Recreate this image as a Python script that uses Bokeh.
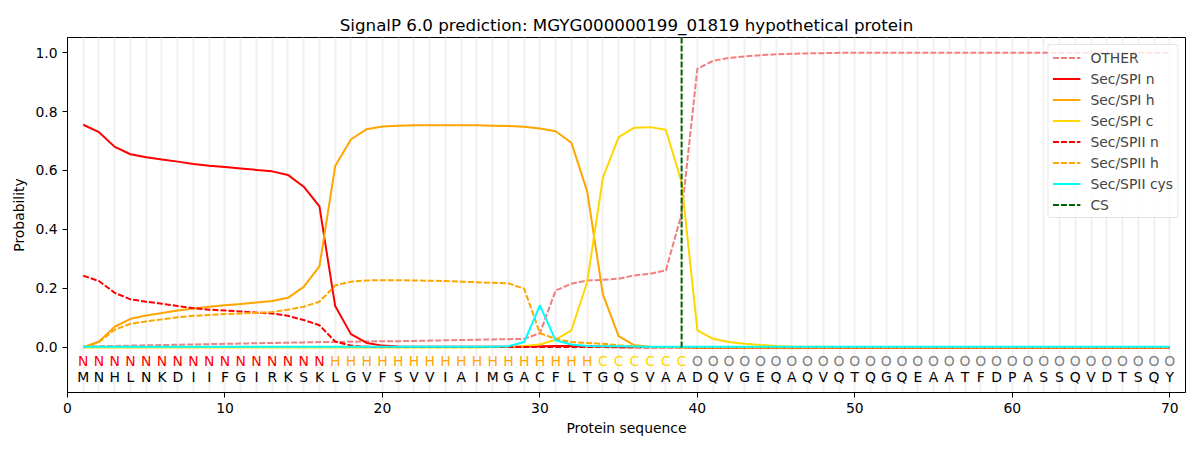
from bokeh.plotting import figure
from bokeh.models import FixedTicker, Legend, LegendItem, Range1d, ColumnDataSource, CustomJSTickFormatter
from bokeh.core.properties import value
from bokeh.embed import file_html
from bokeh.resources import INLINE

sequence = list("MNHLNKDIIFGIRKSKLGVFSVVIAIMGACFLTGQSVAADQVGEQAQVQTQGQEAATFDPASSQVDTSQY")
regions = list("N" * 16 + "H" * 17 + "C" * 6 + "O" * 31)
positions = list(range(1, 71))
cs_position = 39

other = [0.003, 0.004, 0.005, 0.006, 0.007, 0.008, 0.009, 0.010, 0.011, 0.012,
         0.013, 0.014, 0.015, 0.016, 0.017, 0.018, 0.018, 0.019, 0.020, 0.021,
         0.021, 0.022, 0.023, 0.024, 0.025, 0.026, 0.027, 0.028, 0.029, 0.048,
         0.193, 0.216, 0.227, 0.229, 0.233, 0.244, 0.250, 0.261, 0.453, 0.945,
         0.972, 0.982, 0.987, 0.991, 0.994, 0.996, 0.997, 0.998, 0.999, 0.999,
         0.999, 0.999, 0.999, 0.999, 0.999, 0.999, 0.999, 0.999, 0.999, 0.999,
         0.999, 0.999, 0.999, 0.999, 0.999, 0.999, 0.999, 0.999, 0.999, 0.999]
sp1_n = [0.755, 0.730, 0.680, 0.655, 0.645, 0.637, 0.630, 0.622, 0.616, 0.612,
         0.607, 0.602, 0.597, 0.585, 0.545, 0.478, 0.140, 0.045, 0.015, 0.006,
         0.003, 0.002, 0.002, 0.002, 0.002, 0.002, 0.002, 0.002, 0.003, 0.004,
         0.005, 0.005, 0.004, 0.003, 0.002, 0.001, 0.001, 0.001, 0.001, 0.000,
         0.000, 0.000, 0.000, 0.000, 0.000, 0.000, 0.000, 0.000, 0.000, 0.000,
         0.000, 0.000, 0.000, 0.000, 0.000, 0.000, 0.000, 0.000, 0.000, 0.000,
         0.000, 0.000, 0.000, 0.000, 0.000, 0.000, 0.000, 0.000, 0.000, 0.000]
sp1_h = [0.000, 0.020, 0.070, 0.097, 0.108, 0.117, 0.125, 0.132, 0.138, 0.143,
         0.147, 0.152, 0.157, 0.168, 0.205, 0.275, 0.615, 0.705, 0.740, 0.749,
         0.752, 0.753, 0.753, 0.753, 0.753, 0.753, 0.752, 0.751, 0.748, 0.742,
         0.733, 0.694, 0.530, 0.180, 0.038, 0.007, 0.002, 0.001, 0.001, 0.000,
         0.000, 0.000, 0.000, 0.000, 0.000, 0.000, 0.000, 0.000, 0.000, 0.000,
         0.000, 0.000, 0.000, 0.000, 0.000, 0.000, 0.000, 0.000, 0.000, 0.000,
         0.000, 0.000, 0.000, 0.000, 0.000, 0.000, 0.000, 0.000, 0.000, 0.000]
sp1_c = [0.000, 0.000, 0.000, 0.000, 0.000, 0.000, 0.000, 0.000, 0.000, 0.000,
         0.000, 0.000, 0.000, 0.000, 0.000, 0.000, 0.000, 0.000, 0.000, 0.000,
         0.000, 0.000, 0.000, 0.000, 0.000, 0.000, 0.001, 0.002, 0.005, 0.010,
         0.026, 0.058, 0.221, 0.575, 0.713, 0.745, 0.747, 0.738, 0.560, 0.058,
         0.029, 0.018, 0.012, 0.008, 0.005, 0.003, 0.002, 0.002, 0.001, 0.001,
         0.001, 0.001, 0.001, 0.001, 0.001, 0.001, 0.001, 0.001, 0.001, 0.001,
         0.001, 0.001, 0.001, 0.001, 0.001, 0.001, 0.001, 0.001, 0.001, 0.001]
sp2_n = [0.243, 0.225, 0.185, 0.163, 0.155, 0.148, 0.140, 0.133, 0.128, 0.125,
         0.122, 0.118, 0.115, 0.107, 0.093, 0.075, 0.020, 0.006, 0.002, 0.001,
         0.001, 0.001, 0.001, 0.001, 0.001, 0.001, 0.001, 0.001, 0.001, 0.001,
         0.001, 0.001, 0.001, 0.001, 0.000, 0.000, 0.000, 0.000, 0.000, 0.000,
         0.000, 0.000, 0.000, 0.000, 0.000, 0.000, 0.000, 0.000, 0.000, 0.000,
         0.000, 0.000, 0.000, 0.000, 0.000, 0.000, 0.000, 0.000, 0.000, 0.000,
         0.000, 0.000, 0.000, 0.000, 0.000, 0.000, 0.000, 0.000, 0.000, 0.000]
sp2_h = [0.000, 0.018, 0.060, 0.080, 0.088, 0.095, 0.102, 0.107, 0.110, 0.113,
         0.115, 0.117, 0.120, 0.128, 0.138, 0.155, 0.210, 0.223, 0.227, 0.228,
         0.228, 0.227, 0.226, 0.225, 0.223, 0.221, 0.219, 0.217, 0.199, 0.048,
         0.029, 0.018, 0.015, 0.012, 0.007, 0.003, 0.001, 0.001, 0.000, 0.000,
         0.000, 0.000, 0.000, 0.000, 0.000, 0.000, 0.000, 0.000, 0.000, 0.000,
         0.000, 0.000, 0.000, 0.000, 0.000, 0.000, 0.000, 0.000, 0.000, 0.000,
         0.000, 0.000, 0.000, 0.000, 0.000, 0.000, 0.000, 0.000, 0.000, 0.000]
sp2_cys = [0.002, 0.002, 0.002, 0.002, 0.002, 0.002, 0.002, 0.002, 0.002, 0.002,
           0.002, 0.002, 0.002, 0.002, 0.002, 0.002, 0.002, 0.002, 0.002, 0.002,
           0.002, 0.002, 0.002, 0.002, 0.002, 0.002, 0.002, 0.004, 0.018, 0.142,
           0.024, 0.010, 0.005, 0.004, 0.004, 0.003, 0.002, 0.002, 0.002, 0.002,
           0.002, 0.002, 0.002, 0.002, 0.002, 0.002, 0.002, 0.002, 0.002, 0.002,
           0.002, 0.002, 0.002, 0.002, 0.002, 0.002, 0.002, 0.002, 0.002, 0.002,
           0.002, 0.002, 0.002, 0.002, 0.002, 0.002, 0.002, 0.002, 0.002, 0.002]

region_colors = {"N": "#ff0000", "H": "#ffa500", "C": "#ffd700", "O": "#808080"}

FONT = "DejaVu Sans"
FS = "13.9px"

p = figure(width=1192, height=442, output_backend="svg", toolbar_location=None,
           x_range=Range1d(0, 71), y_range=Range1d(-0.153, 1.051),
           min_border_left=67, min_border_right=7, min_border_top=37, min_border_bottom=50)

p.title.text = "SignalP 6.0 prediction: MGYG000000199_01819 hypothetical protein"
p.title.align = "center"
p.title.text_font = FONT
p.title.text_font_size = "16.7px"
p.title.text_font_style = "normal"
p.title.text_color = "#000000"
p.title.offset = 0
p.title.standoff = 6

p.outline_line_color = "#000000"
p.outline_line_width = 1

p.ygrid.visible = False
p.xgrid.ticker = FixedTicker(ticks=positions)
p.xgrid.grid_line_color = "#f0f0f0"
p.xgrid.grid_line_width = 2

p.xaxis.ticker = FixedTicker(ticks=[0, 10, 20, 30, 40, 50, 60, 70])
p.yaxis.ticker = FixedTicker(ticks=[0.0, 0.2, 0.4, 0.6, 0.8, 1.0])
p.yaxis.formatter = CustomJSTickFormatter(code="return tick.toFixed(1);")
for ax in (p.xaxis, p.yaxis):
    ax.major_label_text_font = FONT
    ax.major_label_text_font_size = FS
    ax.major_label_text_color = "#000000"
    ax.axis_label_text_font = FONT
    ax.axis_label_text_font_size = FS
    ax.axis_label_text_font_style = "normal"
    ax.axis_label_text_color = "#000000"
    ax.minor_tick_line_color = None
    ax.major_tick_out = 5
    ax.major_tick_in = 0
    ax.axis_line_color = "#000000"
    ax.major_tick_line_color = "#000000"
p.xaxis.axis_label = "Protein sequence"
p.yaxis.axis_label = "Probability"
p.xaxis.axis_label_standoff = 4

lw = 2
dash = "6 2"
r_other = p.line(positions, other, line_color="#f08080", line_width=lw, line_dash=dash)
r_sp1n = p.line(positions, sp1_n, line_color="#ff0000", line_width=lw)
r_sp1h = p.line(positions, sp1_h, line_color="#ffa500", line_width=lw)
r_sp1c = p.line(positions, sp1_c, line_color="#ffd700", line_width=lw)
r_sp2n = p.line(positions, sp2_n, line_color="#ff0000", line_width=lw, line_dash=dash)
r_sp2h = p.line(positions, sp2_h, line_color="#ffa500", line_width=lw, line_dash=dash)
r_cys = p.line(positions, sp2_cys, line_color="#00ffff", line_width=lw)
r_cs = p.line([cs_position, cs_position], [0, 1.051], line_color="#006400", line_width=lw, line_dash=dash)

src = ColumnDataSource(dict(x=positions, seq=sequence, reg=regions,
                            col=[region_colors[r] for r in regions],
                            y1=[-0.047] * len(positions), y2=[-0.102] * len(positions)))
p.text(x="x", y="y1", text="reg", source=src, text_color="col", text_align="center",
       text_baseline="middle", text_font=value(FONT), text_font_size=FS)
p.text(x="x", y="y2", text="seq", source=src, text_color="#000000", text_align="center",
       text_baseline="middle", text_font=value(FONT), text_font_size=FS)

legend = Legend(items=[
    LegendItem(label="OTHER", renderers=[r_other]),
    LegendItem(label="Sec/SPI n", renderers=[r_sp1n]),
    LegendItem(label="Sec/SPI h", renderers=[r_sp1h]),
    LegendItem(label="Sec/SPI c", renderers=[r_sp1c]),
    LegendItem(label="Sec/SPII n", renderers=[r_sp2n]),
    LegendItem(label="Sec/SPII h", renderers=[r_sp2h]),
    LegendItem(label="Sec/SPII cys", renderers=[r_cys]),
    LegendItem(label="CS", renderers=[r_cs]),
], location="top_right")
legend.label_text_font = FONT
legend.label_text_font_size = FS
legend.label_height = 17
legend.glyph_height = 17
legend.glyph_width = 28
legend.label_standoff = 10
legend.spacing = 4
legend.padding = 4
legend.margin = 7
legend.border_line_color = "#cccccc"
legend.border_line_width = 1
legend.border_radius = 3
legend.background_fill_alpha = 0.8
p.add_layout(legend)

open("out.html", "w").write(file_html(p, INLINE))
